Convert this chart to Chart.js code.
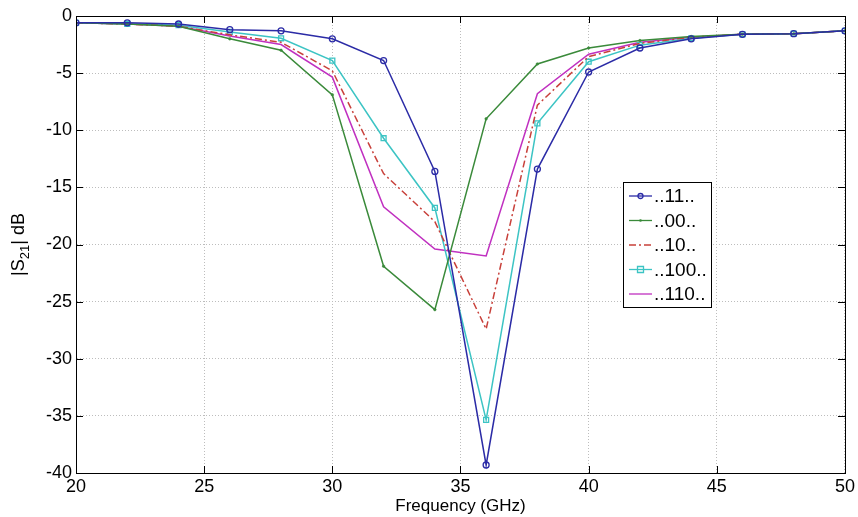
<!DOCTYPE html>
<html><head><meta charset="utf-8">
<script src="https://cdn.jsdelivr.net/npm/chart.js@4/dist/chart.umd.min.js"></script>
<style>html,body{margin:0;padding:0;background:#fff}#wrap{width:858px;height:517px}</style>
</head><body><div id="wrap"><canvas id="c" width="858" height="517"></canvas></div>
<script>
const freq = [20,22,24,26,28,30,32,34,36,38,40,42,44,46,48,50];
const s11  = [-0.6,-0.6,-0.7,-1.2,-1.3,-2.0,-3.9,-13.6,-39.3,-13.4,-4.9,-2.8,-2.0,-1.6,-1.55,-1.3];
const s00  = [-0.6,-0.7,-0.9,-2.0,-3.0,-6.9,-21.9,-25.7,-9.0,-4.2,-2.8,-2.15,-1.8,-1.6,-1.55,-1.3];
const s10  = [-0.6,-0.7,-0.9,-1.65,-2.3,-4.8,-13.8,-18.0,-27.4,-7.8,-3.55,-2.4,-1.85,-1.6,-1.55,-1.3];
const s100 = [-0.6,-0.7,-0.8,-1.4,-1.95,-3.9,-10.7,-16.8,-35.35,-9.4,-4.0,-2.55,-1.95,-1.6,-1.55,-1.3];
const s110 = [-0.6,-0.7,-0.9,-1.75,-2.5,-5.35,-16.7,-20.4,-21.0,-6.8,-3.35,-2.3,-1.85,-1.6,-1.55,-1.3];
const seriesNames = ['..11..','..00..','..10..','..100..','..110..'];
const xTicks = [20,25,30,35,40,45,50];
const yTicks = [0,-5,-10,-15,-20,-25,-30,-35,-40];

const pts = arr => arr.map((v,i)=>({x:freq[i], y:v}));
const FONT = 'Arial, "Liberation Sans", sans-serif';

const datasets = [
  {label:seriesNames[0], data:pts(s11), borderColor:'#2b2ba6', backgroundColor:'rgba(0,0,0,0)', borderWidth:1.5, pointStyle:'circle', pointRadius:3, pointBorderWidth:1.3, pointBorderColor:'#2b2ba6', order:1},
  {label:seriesNames[1], data:pts(s00), borderColor:'#3a8a3a', backgroundColor:'#3a8a3a', borderWidth:1.5, pointStyle:'circle', pointRadius:1.3, pointBorderWidth:0.5, pointBorderColor:'#3a8a3a', order:2},
  {label:seriesNames[2], data:pts(s10), borderColor:'#c8403a', backgroundColor:'rgba(0,0,0,0)', borderWidth:1.5, borderDash:[7,3,2,3], pointRadius:0, order:3},
  {label:seriesNames[3], data:pts(s100), borderColor:'#3cc4c4', backgroundColor:'rgba(0,0,0,0)', borderWidth:1.5, pointStyle:'rect', pointRadius:3.5, pointBorderWidth:1.3, pointBorderColor:'#3cc4c4', order:4},
  {label:seriesNames[4], data:pts(s110), borderColor:'#c030c0', backgroundColor:'rgba(0,0,0,0)', borderWidth:1.5, pointRadius:0, order:5}
];

const decor = {
  id:'decor',
  afterDatasetsDraw(chart){
    const ctx = chart.ctx, a = chart.chartArea;
    const xs = chart.scales.x, ys = chart.scales.y;
    ctx.save();
    ctx.strokeStyle = '#000'; ctx.lineWidth = 1;
    ctx.strokeRect(Math.round(a.left)+0.5, Math.round(a.top)+0.5, Math.round(a.right-a.left), Math.round(a.bottom-a.top));
    ctx.beginPath();
    xTicks.forEach(t=>{const px=Math.round(xs.getPixelForValue(t))+0.5;
      ctx.moveTo(px,a.bottom); ctx.lineTo(px,a.bottom-7);
      ctx.moveTo(px,a.top); ctx.lineTo(px,a.top+7);});
    yTicks.forEach(t=>{const py=Math.round(ys.getPixelForValue(t))+0.5;
      ctx.moveTo(a.left,py); ctx.lineTo(a.left+7,py);
      ctx.moveTo(a.right,py); ctx.lineTo(a.right-7,py);});
    ctx.stroke();
    // y title with subscript
    ctx.fillStyle = '#000';
    ctx.translate(24, (a.top+a.bottom)/2);
    ctx.rotate(-Math.PI/2);
    ctx.textBaseline = 'alphabetic';
    const p1='|S', p3='| dB';
    ctx.font = '18px '+FONT; const w1=ctx.measureText(p1).width;
    ctx.font = '13px '+FONT; const w2=ctx.measureText('21').width;
    ctx.font = '18px '+FONT; const w3=ctx.measureText(p3).width;
    let x0 = -(w1+w2+w3)/2;
    ctx.font = '18px '+FONT; ctx.fillText(p1,x0,0);
    ctx.font = '13px '+FONT; ctx.fillText('21',x0+w1,5);
    ctx.font = '18px '+FONT; ctx.fillText(p3,x0+w1+w2,0);
    ctx.restore();
    // legend
    ctx.save();
    const lx=623, ly=182, lw=88, lh=125;
    ctx.fillStyle='#fff'; ctx.fillRect(lx,ly,lw,lh);
    ctx.strokeStyle='#000'; ctx.lineWidth=1; ctx.strokeRect(lx+0.5,ly+0.5,lw,lh);
    chart.data.datasets.forEach((ds,i)=>{
      const yy = ly+14+i*24.5;
      ctx.save();
      ctx.strokeStyle=ds.borderColor; ctx.lineWidth=1.3;
      ctx.setLineDash(ds.borderDash||[]);
      ctx.beginPath(); ctx.moveTo(lx+6,yy); ctx.lineTo(lx+29,yy); ctx.stroke();
      ctx.setLineDash([]);
      if(ds.pointRadius>0){
        ctx.fillStyle=ds.backgroundColor; ctx.strokeStyle=ds.pointBorderColor; ctx.lineWidth=1.3;
        if(ds.pointStyle==='circle' && ds.pointRadius<2){ctx.beginPath();ctx.arc(lx+17.5,yy,ds.pointRadius,0,Math.PI*2);ctx.fill();}
        else { ctx.beginPath(); if(ds.pointStyle==='rect'){ctx.rect(lx+17.5-3,yy-3,6,6);} else {ctx.arc(lx+17.5,yy,2.5,0,Math.PI*2);} ctx.stroke(); }
      }
      ctx.restore();
      ctx.fillStyle='#000'; ctx.font='19px '+FONT; ctx.textBaseline='middle';
      ctx.fillText(ds.label, lx+31, yy+1);
    });
    ctx.restore();
  }
};

new Chart(document.getElementById('c'), {
  type:'line',
  data:{datasets},
  options:{
    responsive:false, animation:false, devicePixelRatio:1,
    layout:{padding:{top:16,right:12,left:0,bottom:0}},
    plugins:{legend:{display:false}, tooltip:{enabled:false}},
    scales:{
      x:{type:'linear', min:20, max:50,
        afterBuildTicks: s=>{s.ticks = xTicks.map(v=>({value:v}));},
        afterFit: s=>{s.height=44;},
        ticks:{color:'#000', font:{size:18, family:FONT}, padding:3, maxRotation:0},
        grid:{color:'#bdbdbd', lineWidth:1, drawTicks:false},
        border:{display:true, color:'#000', dash:[1,2]},
        title:{display:true, text:'Frequency (GHz)', color:'#000', font:{size:17, family:FONT}, padding:{top:-3,bottom:0}}
      },
      y:{type:'linear', min:-40, max:0,
        afterBuildTicks: s=>{s.ticks = yTicks.map(v=>({value:v}));},
        afterFit: s=>{s.width=76;},
        ticks:{color:'#000', font:{size:18, family:FONT}, padding:4},
        grid:{color:'#bdbdbd', lineWidth:1, drawTicks:false},
        border:{display:true, color:'#000', dash:[1,2]}
      }
    }
  },
  plugins:[decor]
});
</script></body></html>
